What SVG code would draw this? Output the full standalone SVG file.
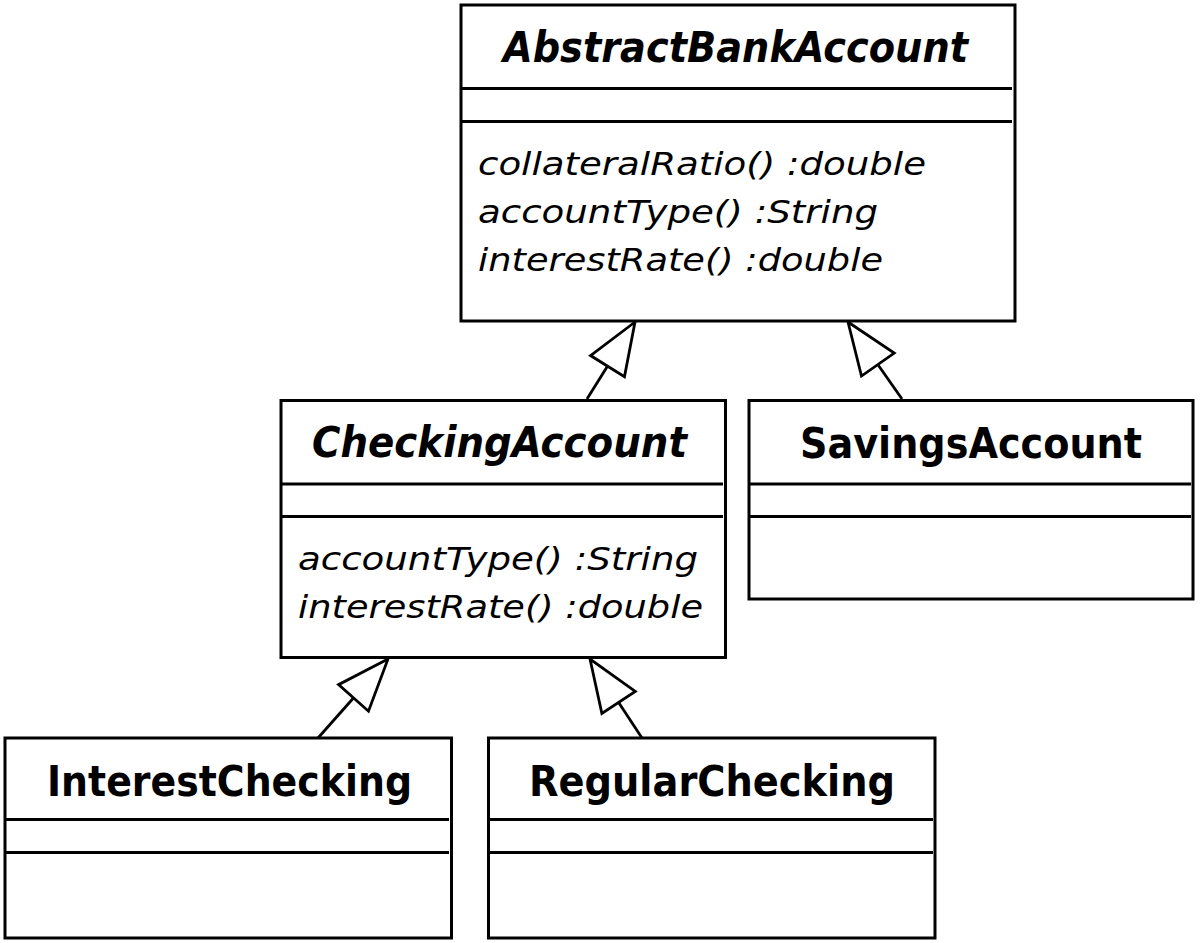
<svg xmlns="http://www.w3.org/2000/svg" width="1200" height="943" viewBox="0 0 1200 943">
<style>
  .box { fill: #ffffff; stroke: #000000; stroke-width: 3; }
  .sep { stroke: #000000; stroke-width: 2.8; }
  .title { font-family: "DejaVu Sans", "Liberation Sans", sans-serif; font-weight: bold; font-size: 43px; fill: #000000; }
  .abs { font-style: italic; }
  .op { font-family: "DejaVu Sans", "Liberation Sans", sans-serif; font-style: italic; font-size: 32px; fill: #000000; }
  .edge { fill: none; stroke: #000000; stroke-width: 2.8; marker-end: url(#gen); }
</style>
<defs>
  <marker id="gen" viewBox="-56 -26 60 52" markerWidth="60" markerHeight="52" refX="0" refY="0" markerUnits="userSpaceOnUse" orient="auto" overflow="visible">
    <path d="M0,0 L-52,-20 L-52,20 Z" fill="#ffffff" stroke="#000000" stroke-width="2.8" stroke-linejoin="miter"/>
  </marker>
</defs>
<rect width="1200" height="943" fill="#ffffff"/>

<g id="connectors">
  <path class="edge" d="M587,399 L635,322"/>
  <path class="edge" d="M902,399 L848,322"/>
  <path class="edge" d="M318,738 L388,659"/>
  <path class="edge" d="M642,738 L590,659"/>
</g>

<g id="AbstractBankAccount">
  <rect class="box" x="461" y="5" width="554" height="316"/>
  <line class="sep" x1="462" y1="88.5" x2="1012" y2="88.5"/>
  <line class="sep" x1="462" y1="121.5" x2="1012" y2="121.5"/>
  <text class="title abs" x="503" y="62" textLength="465" lengthAdjust="spacingAndGlyphs">AbstractBankAccount</text>
  <text class="op" x="478" y="175" textLength="448" lengthAdjust="spacingAndGlyphs">collateralRatio() :double</text>
  <text class="op" x="478" y="223" textLength="400" lengthAdjust="spacingAndGlyphs">accountType() :String</text>
  <text class="op" x="478" y="271" textLength="405" lengthAdjust="spacingAndGlyphs">interestRate() :double</text>
</g>

<g id="CheckingAccount">
  <rect class="box" x="281" y="400.5" width="444.5" height="257"/>
  <line class="sep" x1="282" y1="484" x2="723" y2="484"/>
  <line class="sep" x1="282" y1="516.5" x2="723" y2="516.5"/>
  <text class="title abs" x="312" y="457" textLength="375" lengthAdjust="spacingAndGlyphs">CheckingAccount</text>
  <text class="op" x="298" y="570" textLength="400" lengthAdjust="spacingAndGlyphs">accountType() :String</text>
  <text class="op" x="298" y="618" textLength="405" lengthAdjust="spacingAndGlyphs">interestRate() :double</text>
</g>

<g id="SavingsAccount">
  <rect class="box" x="749" y="400.5" width="444" height="198.5"/>
  <line class="sep" x1="750" y1="484" x2="1191" y2="484"/>
  <line class="sep" x1="750" y1="516.5" x2="1191" y2="516.5"/>
  <text class="title" x="800" y="458" textLength="342" lengthAdjust="spacingAndGlyphs">SavingsAccount</text>
</g>

<g id="InterestChecking">
  <rect class="box" x="5" y="738" width="446.5" height="200"/>
  <line class="sep" x1="6" y1="819.5" x2="449" y2="819.5"/>
  <line class="sep" x1="6" y1="852.5" x2="449" y2="852.5"/>
  <text class="title" x="47" y="796" textLength="365" lengthAdjust="spacingAndGlyphs">InterestChecking</text>
</g>

<g id="RegularChecking">
  <rect class="box" x="488.5" y="738" width="446.5" height="200"/>
  <line class="sep" x1="489.5" y1="819.5" x2="933" y2="819.5"/>
  <line class="sep" x1="489.5" y1="852.5" x2="933" y2="852.5"/>
  <text class="title" x="529" y="796" textLength="366" lengthAdjust="spacingAndGlyphs">RegularChecking</text>
</g>
</svg>
